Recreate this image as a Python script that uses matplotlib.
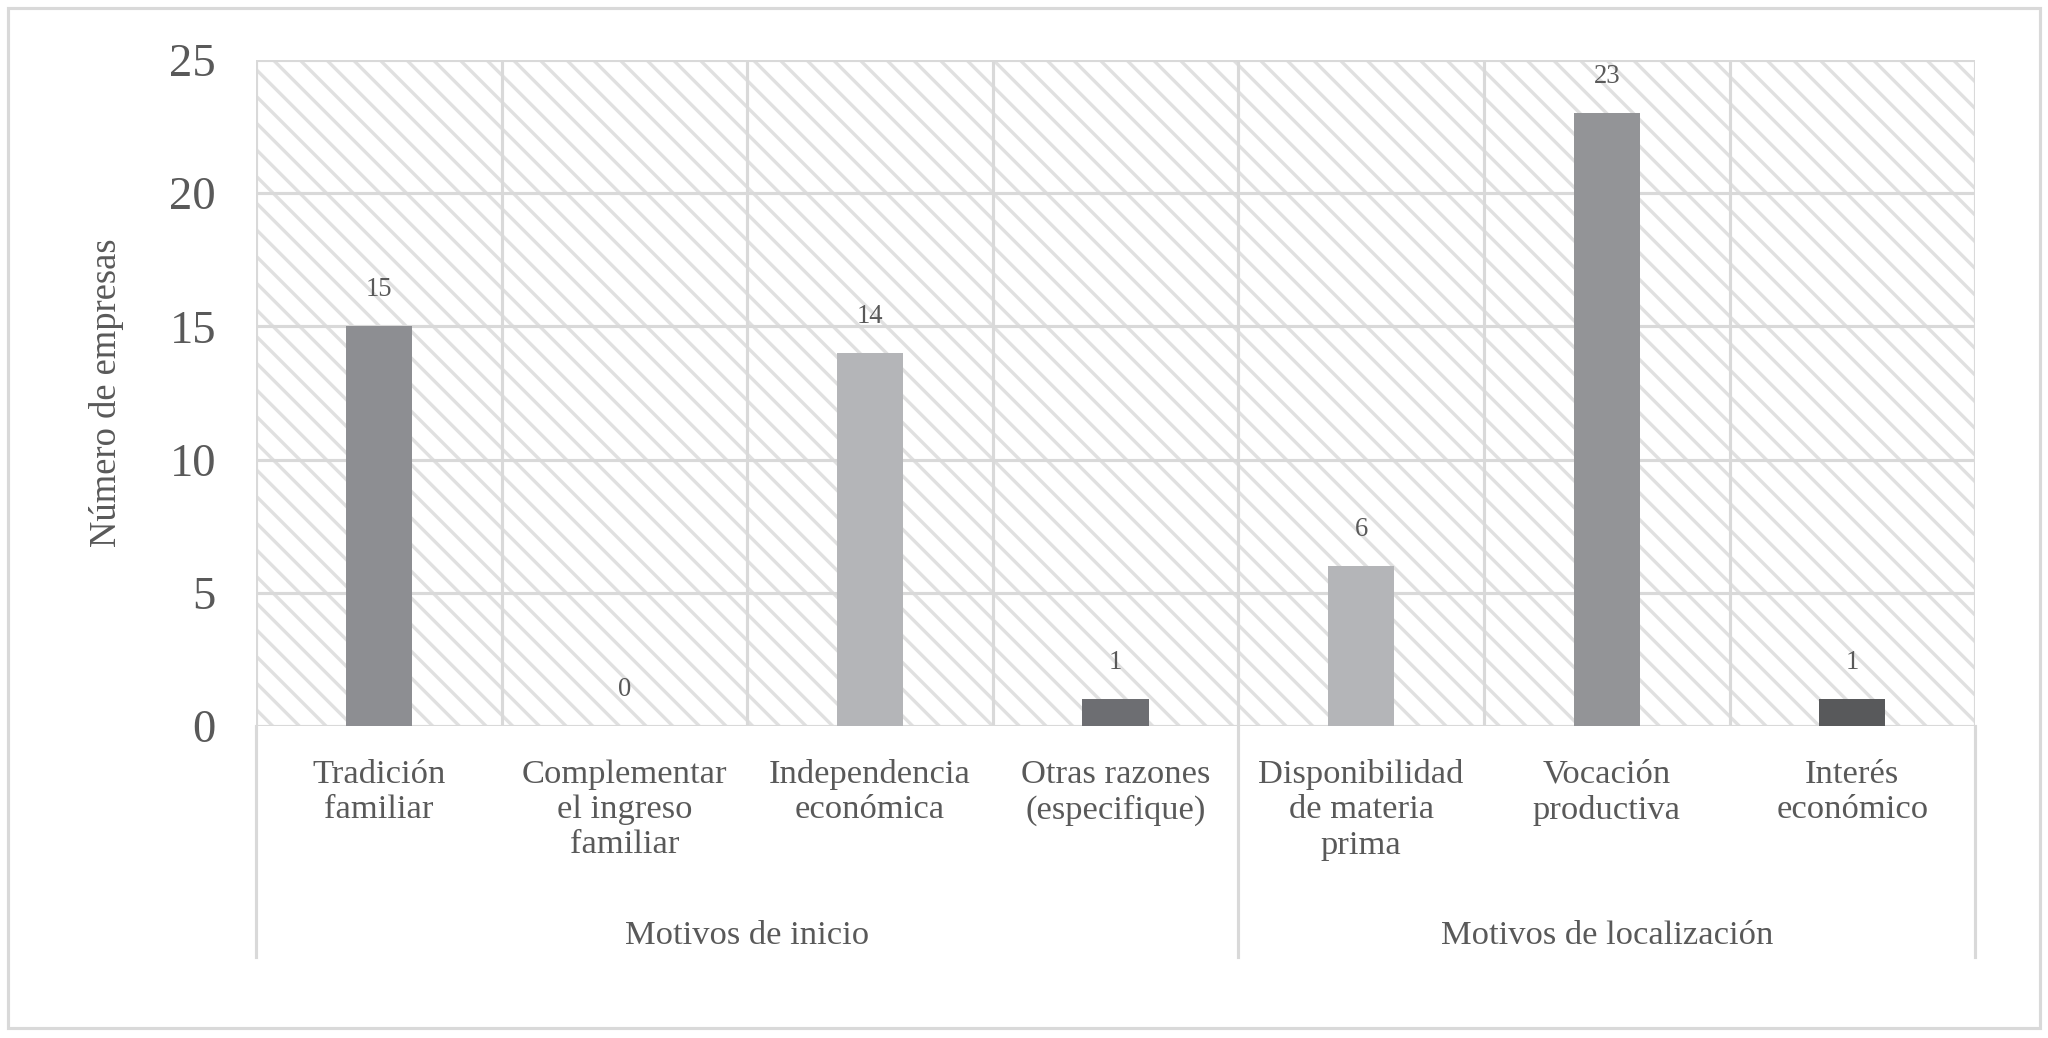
import numpy as np
import matplotlib
matplotlib.use('Agg')
import matplotlib.pyplot as plt
from matplotlib.patches import Rectangle
import matplotlib.transforms as mtransforms

plt.rcParams['font.family'] = ['Liberation Serif', 'DejaVu Serif']
plt.rcParams['hatch.linewidth'] = 1.5

# data
categorias = ['Tradición\nfamiliar', 'Complementar\nel ingreso\nfamiliar',
              'Independencia\neconómica', 'Otras razones\n(especifique)',
              'Disponibilidad\nde materia\nprima', 'Vocación\nproductiva',
              'Interés\neconómico']
valores = [15, 0, 14, 1, 6, 23, 1]
colores = ['#8d8e92', '#a6a7aa', '#b4b5b8', '#6d6e72', '#b4b5b8', '#939497', '#58595b']
grupos = ['Motivos de inicio', 'Motivos de localización']
grupo_n = [4, 3]
yticks = [0, 5, 10, 15, 20, 25]

gris = '#595959'
linea = '#d9d9d9'

fig = plt.figure(figsize=(12.8, 6.4875), dpi=160)
ax = fig.add_axes([0.125, 1 - 726/1038, 0.8394, (726 - 60)/1038])

# hatched background
ax.add_patch(Rectangle((0, 0), 1, 1, transform=ax.transAxes, facecolor='white',
                       edgecolor='#e0e0e0', hatch='\\\\', linewidth=0, zorder=0))

x = np.arange(len(valores))
bars = ax.bar(x, valores, width=0.27, color=colores, zorder=3)
for xi, v in zip(x, valores):
    ax.annotate(str(v), (xi, v), xytext=(0, 11), textcoords='offset points',
                ha='center', va='bottom', fontsize=12, color=gris)

ax.set_xlim(-0.5, len(valores) - 0.5)
ax.set_ylim(0, 25)
ax.set_yticks(yticks)
ax.set_xticks(np.arange(-0.5, len(valores), 1))
ax.set_xticklabels([])
ax.set_axisbelow(True)
ax.grid(True, color=linea, linewidth=1.4)
ax.tick_params(length=0, labelsize=21, labelcolor=gris, pad=18)
for s in ax.spines.values():
    s.set_visible(False)

ax.set_ylabel('Número de empresas', fontsize=16.5, color=gris)
ax.yaxis.set_label_coords(-0.077, 0.5)

trans = mtransforms.blended_transform_factory(ax.transData, ax.transAxes)
for xi, lab in zip(x, categorias):
    ax.text(xi, -0.05, lab, transform=trans, ha='center', va='top',
            fontsize=15.5, color=gris, linespacing=1.2)

# group labels and separators
start = -0.5
sep_y = -(957 - 726) / 666
for g, n in zip(grupos, grupo_n):
    ax.text(start + n/2, -0.315, g, transform=trans, ha='center', va='center',
            fontsize=15.5, color=gris)
    ax.plot([start, start], [0, sep_y], transform=trans, color=linea,
            linewidth=1.4, clip_on=False)
    start += n
ax.plot([start, start], [0, sep_y], transform=trans, color=linea,
        linewidth=1.4, clip_on=False)

# outer border
fig.add_artist(Rectangle((8/2048, 1 - 1028/1038), 2032/2048, 1020/1038,
                         transform=fig.transFigure, fill=False,
                         edgecolor=linea, linewidth=1.4))

fig.savefig('out.png', dpi=160)
